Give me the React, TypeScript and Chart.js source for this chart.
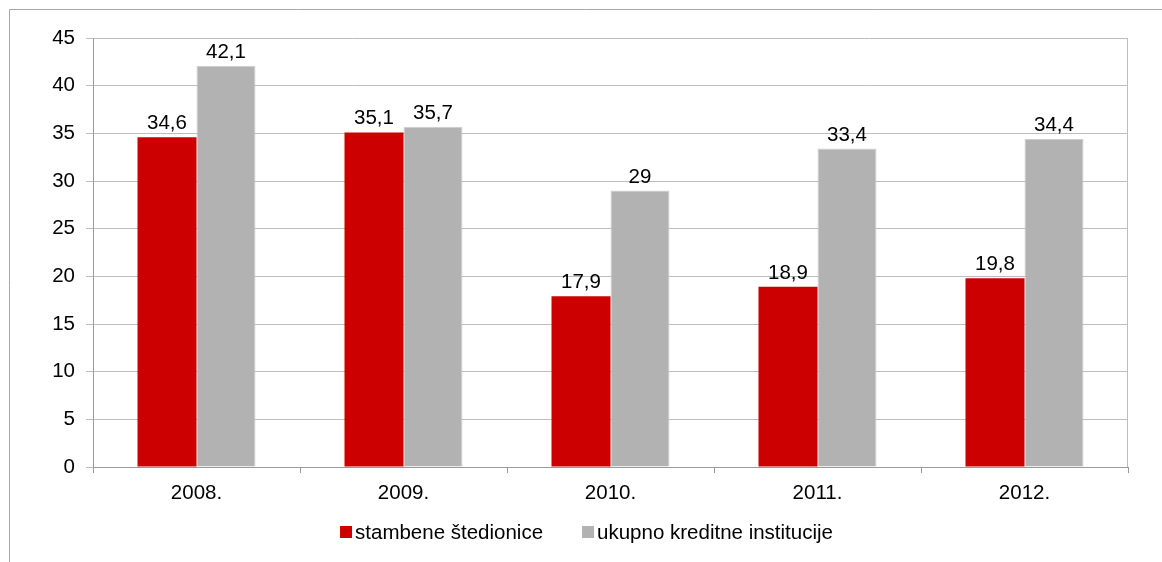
import React, { useEffect, useRef } from "react";
import { Chart, registerables } from "chart.js";

Chart.register(...registerables);

const categories = ["2008.", "2009.", "2010.", "2011.", "2012."];
const stambene = [34.6, 35.1, 17.9, 18.9, 19.8];
const ukupno = [42.1, 35.7, 29, 33.4, 34.4];
const seriesNames = ["stambene štedionice", "ukupno kreditne institucije"];
const yTicks = [0, 5, 10, 15, 20, 25, 30, 35, 40, 45];

const FONT = "'Liberation Sans', Arial, sans-serif";
const FS = 20.5;
const GRID = "#bdbdbd";
const AXIS = "#9a9a9a";

const fmt = (v: number) => String(v).replace(".", ",");

const framePlugin = {
  id: "frame",
  beforeDraw(chart: any) {
    const ctx = chart.ctx;
    ctx.save();
    ctx.strokeStyle = "#a8a8a8";
    ctx.lineWidth = 1;
    ctx.beginPath();
    ctx.moveTo(9.5, 562);
    ctx.lineTo(9.5, 9.5);
    ctx.lineTo(1162, 9.5);
    ctx.stroke();
    ctx.restore();
  },
  afterDraw(chart: any) {
    const { ctx, chartArea } = chart;
    ctx.save();
    ctx.strokeStyle = GRID;
    ctx.lineWidth = 1;
    const x = Math.round(chartArea.right) - 0.5;
    ctx.beginPath();
    ctx.moveTo(x, chartArea.top);
    ctx.lineTo(x, chartArea.bottom);
    ctx.stroke();
    ctx.restore();
  },
};

const labelPlugin = {
  id: "valueLabels",
  afterDatasetsDraw(chart: any) {
    const ctx = chart.ctx;
    ctx.save();
    ctx.font = `${FS}px ${FONT}`;
    ctx.fillStyle = "#000";
    ctx.textAlign = "center";
    ctx.textBaseline = "alphabetic";
    chart.data.datasets.forEach((ds: any, di: number) => {
      const meta = chart.getDatasetMeta(di);
      meta.data.forEach((bar: any, i: number) => {
        ctx.fillText(fmt(ds.data[i]), bar.x, bar.y - 8);
      });
    });
    ctx.restore();
  },
};

const legendPlugin = {
  id: "customLegend",
  afterDraw(chart: any) {
    const ctx = chart.ctx;
    ctx.save();
    ctx.font = `${FS}px ${FONT}`;
    ctx.textBaseline = "middle";
    ctx.textAlign = "left";
    const box = 12;
    const gapText = 3;
    const gapItem = 39;
    const items = chart.data.datasets.map((ds: any) => ({
      label: ds.label,
      color: ds.backgroundColor,
      w: ctx.measureText(ds.label).width,
    }));
    const total =
      items.reduce((s: number, it: any) => s + box + gapText + it.w, 0) +
      gapItem * (items.length - 1);
    let x = 586.5 - total / 2;
    const cy = 532;
    items.forEach((it: any) => {
      ctx.fillStyle = it.color;
      ctx.fillRect(x, cy - box / 2, box, box);
      ctx.fillStyle = "#000";
      ctx.fillText(it.label, x + box + gapText, cy + 1);
      x += box + gapText + it.w + gapItem;
    });
    ctx.restore();
  },
};

export default function App() {
  const ref = useRef<HTMLCanvasElement | null>(null);

  useEffect(() => {
    if (!ref.current) return;
    const chart = new Chart(ref.current, {
      type: "bar",
      data: {
        labels: categories,
        datasets: [
          {
            label: seriesNames[0],
            data: stambene,
            backgroundColor: "#CC0000",
            borderColor: "#d42a2a",
            borderWidth: 0,
            categoryPercentage: 0.57,
            barPercentage: 1,
          },
          {
            label: seriesNames[1],
            data: ukupno,
            backgroundColor: "#B2B2B2",
            borderColor: "#cdcdcd",
            borderWidth: 1,
            categoryPercentage: 0.57,
            barPercentage: 1,
          },
        ],
      },
      options: {
        responsive: false,
        animation: false,
        devicePixelRatio: 1,
        layout: { padding: { left: 0, right: 34, top: 38, bottom: 55 } },
        plugins: {
          legend: { display: false },
          tooltip: { enabled: false },
          title: { display: false },
        },
        scales: {
          x: {
            offset: true,
            grid: {
              offset: true,
              drawOnChartArea: false,
              drawTicks: true,
              tickLength: 6,
              color: AXIS,
            },
            border: { display: true, color: AXIS },
            ticks: {
              color: "#000",
              font: { family: FONT, size: FS },
              padding: 8,
              maxRotation: 0,
            },
            afterFit: (s: any) => {
              s.height = 40;
            },
          },
          y: {
            min: 0,
            max: 45,
            afterBuildTicks: (s: any) => {
              s.ticks = yTicks.map((v) => ({ value: v }));
            },
            grid: {
              color: GRID,
              drawTicks: true,
              tickLength: 7,
            },
            border: { display: true, color: AXIS },
            ticks: {
              color: "#000",
              font: { family: FONT, size: FS },
              padding: 11,
            },
            afterFit: (s: any) => {
              s.width = 93;
            },
          },
        },
      },
      plugins: [framePlugin, labelPlugin, legendPlugin],
    });
    return () => chart.destroy();
  }, []);

  return (
    <div style={{ position: "absolute", left: 0, top: 0, width: 1162, height: 562 }}>
      <canvas ref={ref} width={1162} height={562} style={{ display: "block" }} />
    </div>
  );
}
